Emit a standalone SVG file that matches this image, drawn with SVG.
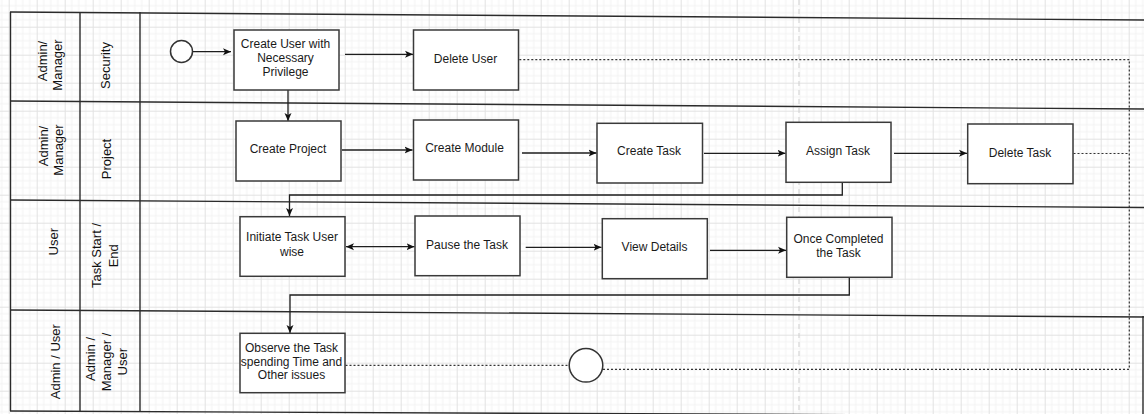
<svg xmlns="http://www.w3.org/2000/svg" width="1144" height="414" viewBox="0 0 1144 414">
  <style>
    .lane { stroke: #2b2b2b; stroke-width: 1.4; fill: none; }
    .box { fill: #ffffff; stroke: #3a3a3a; stroke-width: 1.5; }
    .lbl { font-family: "Liberation Sans", Arial, sans-serif; font-size: 12px; fill: #1a1a1a; text-anchor: middle; }
    .lane-lbl { font-family: "Liberation Sans", Arial, sans-serif; font-size: 13px; fill: #111111; text-anchor: middle; }
    .flow { stroke: #1e1e1e; stroke-width: 1.3; fill: none; }
    .dot { stroke: #333333; stroke-width: 1.2; fill: none; stroke-dasharray: 2 2; }
    .guide { stroke: #cfcfcf; stroke-width: 1; stroke-dasharray: 5 4; fill: none; }
    .event { fill: #ffffff; stroke: #333333; stroke-width: 1.5; }
  </style>
  <defs>
    <pattern id="grid" x="8.7" y="-1.3" width="28" height="28" patternUnits="userSpaceOnUse">
      <path d="M7 0V28M14 0V28M21 0V28M0 7H28M0 14H28M0 21H28" stroke="#f2f2f2" stroke-width="1"/>
      <path d="M0.5 0V28M0 0.5H28" stroke="#e2e2e2" stroke-width="1"/>
    </pattern>
    <marker id="arrow" markerUnits="userSpaceOnUse" markerWidth="9" markerHeight="9" refX="8" refY="4" orient="auto-start-reverse">
      <path d="M0,0.5 L8,4 L0,7.5 L2,4 Z" fill="#111111"/>
    </marker>
  </defs>

  <!-- background grid -->
  <rect width="1144" height="414" fill="#ffffff"/>
  <rect width="1144" height="414" fill="url(#grid)"/>
  <line class="guide" x1="799" y1="0" x2="799" y2="414"/>

  <!-- swimlane frame -->
  <g id="lanes">
    <line class="lane" x1="10" y1="12" x2="1144" y2="20"/>
    <line class="lane" x1="10" y1="101" x2="1144" y2="109"/>
    <line class="lane" x1="10" y1="200" x2="1144" y2="207.5"/>
    <line class="lane" x1="10" y1="310" x2="1144" y2="317"/>
    <line class="lane" x1="10" y1="411" x2="1144" y2="416"/>
    <line class="lane" x1="10.5" y1="12" x2="10.5" y2="411"/>
    <line class="lane" x1="80" y1="12" x2="80" y2="411"/>
    <line class="lane" x1="140" y1="12" x2="140" y2="411"/>
    <line class="lane" x1="1143" y1="316" x2="1143" y2="414"/>
  </g>

  <!-- lane headers -->
  <g id="lane-security">
    <text class="lane-lbl" transform="translate(46.5,61) rotate(-90)">Admin/</text>
    <text class="lane-lbl" transform="translate(61.5,65) rotate(-90)">Manager</text>
    <text class="lane-lbl" transform="translate(110,65.5) rotate(-90)">Security</text>
  </g>
  <g id="lane-project">
    <text class="lane-lbl" transform="translate(48,146) rotate(-90)">Admin/</text>
    <text class="lane-lbl" transform="translate(63,150) rotate(-90)">Manager</text>
    <text class="lane-lbl" transform="translate(110.5,159) rotate(-90)">Project</text>
  </g>
  <g id="lane-task">
    <text class="lane-lbl" transform="translate(58,241.7) rotate(-90)">User</text>
    <text class="lane-lbl" transform="translate(101,255.5) rotate(-90)">Task Start /</text>
    <text class="lane-lbl" transform="translate(118,255.8) rotate(-90)">End</text>
  </g>
  <g id="lane-observe">
    <text class="lane-lbl" transform="translate(60,361.7) rotate(-90)">Admin / User</text>
    <text class="lane-lbl" transform="translate(94.5,359) rotate(-90)">Admin /</text>
    <text class="lane-lbl" transform="translate(111,362) rotate(-90)">Manager /</text>
    <text class="lane-lbl" transform="translate(127,361.7) rotate(-90)">User</text>
  </g>

  <!-- connectors -->
  <g id="connectors">
    <line class="flow" x1="192.5" y1="51.7" x2="231" y2="51.7" marker-end="url(#arrow)"/>
    <line class="flow" x1="345" y1="54.3" x2="413" y2="54.3" marker-end="url(#arrow)"/>
    <line class="flow" x1="288" y1="90" x2="288" y2="121" marker-end="url(#arrow)"/>
    <line class="flow" x1="342" y1="150" x2="412.5" y2="150" marker-end="url(#arrow)"/>
    <line class="flow" x1="522" y1="153" x2="596.5" y2="153" marker-end="url(#arrow)"/>
    <line class="flow" x1="704" y1="153.3" x2="785.5" y2="153.3" marker-end="url(#arrow)"/>
    <line class="flow" x1="894" y1="153.3" x2="967" y2="153.3" marker-end="url(#arrow)"/>
    <path class="flow" d="M842.3,182.5 V195 H289.5 V216" marker-end="url(#arrow)"/>
    <line class="flow" x1="346" y1="246.7" x2="414.5" y2="246.7" marker-start="url(#arrow)" marker-end="url(#arrow)"/>
    <line class="flow" x1="525.7" y1="247.3" x2="601.5" y2="247.3" marker-end="url(#arrow)"/>
    <line class="flow" x1="710" y1="250.3" x2="786" y2="250.3" marker-end="url(#arrow)"/>
    <path class="flow" d="M849.3,277.5 V295 H290 V333" marker-end="url(#arrow)"/>
    <line class="dot" x1="345.5" y1="365.3" x2="569" y2="365.3"/>
    <path class="dot" d="M603,369.3 H1129.3 V59.6 H519"/>
    <line class="dot" x1="1073.5" y1="153.5" x2="1129.3" y2="153.5"/>
  </g>

  <!-- start / end events -->
  <g id="start">
    <circle class="event" cx="181.5" cy="51.5" r="11"/>
  </g>
  <g id="end">
    <circle class="event" cx="586" cy="365.3" r="16.8"/>
  </g>

  <!-- activities -->
  <g id="create-user">
    <rect class="box" x="234" y="30" width="105" height="60"/>
    <text class="lbl" x="285.5" y="47.7">Create User with</text>
    <text class="lbl" x="285.5" y="61.7">Necessary</text>
    <text class="lbl" x="285.5" y="75.5">Privilege</text>
  </g>
  <g id="delete-user">
    <rect class="box" x="413.5" y="30" width="105" height="60"/>
    <text class="lbl" x="465.5" y="63.3">Delete User</text>
  </g>
  <g id="create-project">
    <rect class="box" x="236" y="121" width="105" height="60"/>
    <text class="lbl" x="288" y="152.7">Create Project</text>
  </g>
  <g id="create-module">
    <rect class="box" x="413.5" y="120" width="105" height="60"/>
    <text class="lbl" x="464.5" y="152.3">Create Module</text>
  </g>
  <g id="create-task">
    <rect class="box" x="597" y="123.3" width="105.5" height="59.7"/>
    <text class="lbl" x="649" y="155.3">Create Task</text>
  </g>
  <g id="assign-task">
    <rect class="box" x="786" y="122.3" width="105" height="60"/>
    <text class="lbl" x="838" y="155">Assign Task</text>
  </g>
  <g id="delete-task">
    <rect class="box" x="967.7" y="124" width="105.3" height="59.7"/>
    <text class="lbl" x="1020" y="156.7">Delete Task</text>
  </g>
  <g id="initiate-task">
    <rect class="box" x="240" y="216.7" width="105" height="59.6"/>
    <text class="lbl" x="292" y="241.3">Initiate Task User</text>
    <text class="lbl" x="292" y="256">wise</text>
  </g>
  <g id="pause-task">
    <rect class="box" x="415" y="216" width="105" height="59.7"/>
    <text class="lbl" x="467" y="249">Pause the Task</text>
  </g>
  <g id="view-details">
    <rect class="box" x="602.3" y="218.7" width="105" height="60"/>
    <text class="lbl" x="654.5" y="251">View Details</text>
  </g>
  <g id="once-completed">
    <rect class="box" x="786.7" y="217.3" width="105.3" height="60"/>
    <text class="lbl" x="838.5" y="242.7">Once Completed</text>
    <text class="lbl" x="838.5" y="257.3">the Task</text>
  </g>
  <g id="observe-task">
    <rect class="box" x="240" y="333.3" width="105" height="59.4"/>
    <text class="lbl" x="291.5" y="351.7">Observe the Task</text>
    <text class="lbl" x="291.5" y="365.7">spending Time and</text>
    <text class="lbl" x="291.5" y="379">Other issues</text>
  </g>
</svg>
